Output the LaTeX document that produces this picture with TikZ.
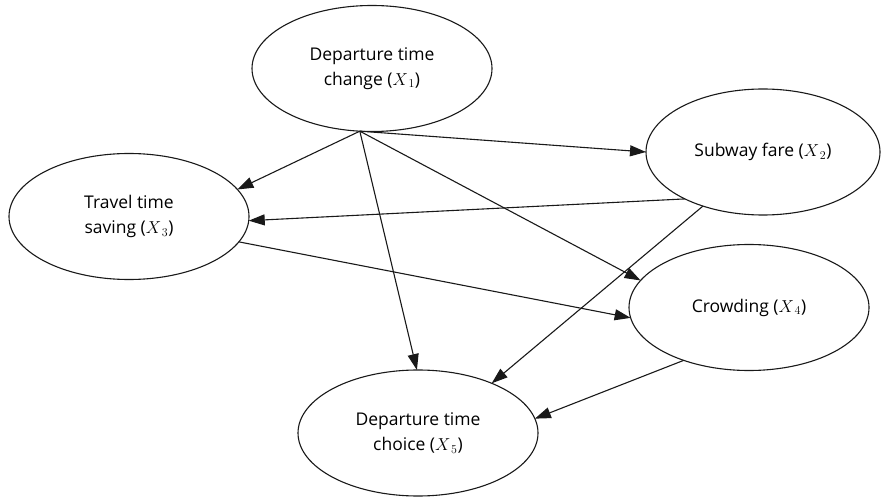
\documentclass[tikz,border=0pt]{standalone}
\usepackage{fontspec}
\setmainfont{Open Sans}
\usetikzlibrary{arrows.meta,shapes.geometric}
\begin{document}
\begin{tikzpicture}[x=1pt,y=-1pt,
  var/.style={ellipse, draw=black!90, line width=1.1pt, minimum width=240pt, minimum height=126pt,
    inner sep=0pt, outer sep=0pt, align=center, text=black, font=\fontsize{17.5}{25}\selectfont},
  arr/.style={line width=1.1pt, draw=black!90, -{Triangle[length=16pt,width=11pt]}}]
\useasboundingbox (0,0) rectangle (881,497);
\node[var] (X1) at (372,68.5) {Departure time\\change ($X_{\,1}$)};
\node[var, minimum width=234pt] (X2) at (763,152) {Subway fare ($X_{\,2}$)};
\node[var] (X3) at (129,216.5) {Travel time\\saving ($X_{\,3}$)};
\node[var] (X4) at (749,307.5) {Crowding ($X_{\,4}$)};
\node[var] (X5) at (418,433) {Departure time\\choice ($X_{\,5}$)};
\coordinate (S) at (X1.-101);
\draw[arr] (S) -- (X3.14.5);
\draw[arr] (S) -- (X2.180);
\draw[arr] (S) -- (X4.166);
\draw[arr] (S) -- (X5.91);
\draw[arr] (X2.-149.5) -- (X3.-2);
\draw[arr] (X3.-13.2) -- (X4.-175.6);
\draw[arr] (X2.-138.7) -- (X5.34);
\draw[arr] (X4.-141) -- (X5.7.7);
\end{tikzpicture}
\end{document}
